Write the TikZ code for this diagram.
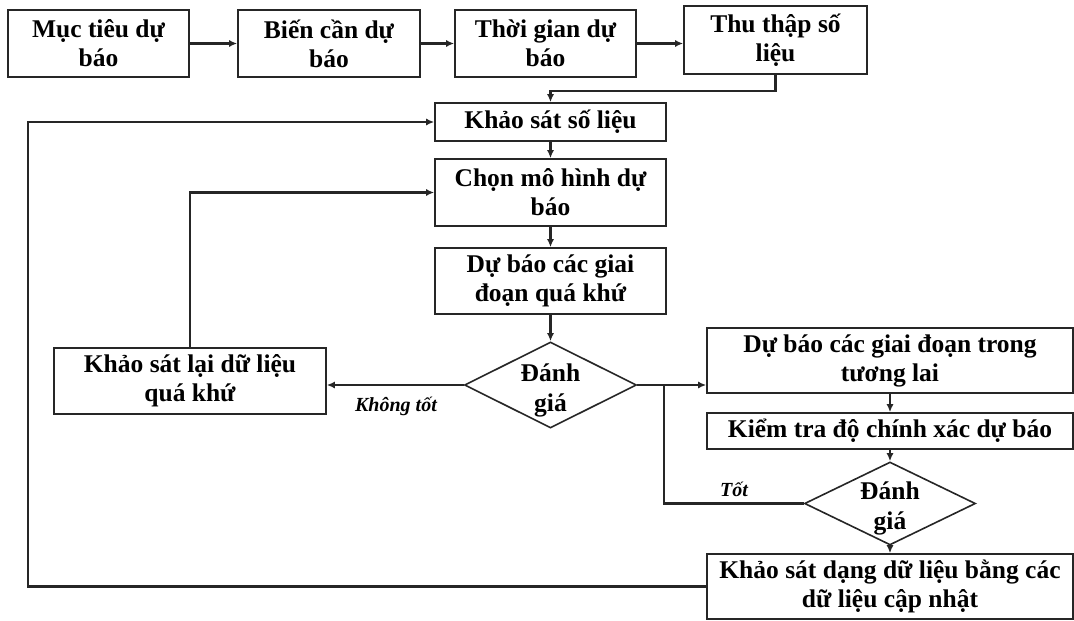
\documentclass[tikz,border=0pt]{standalone}
\usepackage{fontspec}
\setmainfont{Liberation Serif}
\usetikzlibrary{shapes.geometric,arrows.meta}
\begin{document}
\begin{tikzpicture}[x=1pt,y=-1pt,
  box/.style={draw=black!85, line width=1.6pt, fill=white, align=center,
    font=\fontsize{25.5}{29}\selectfont\bfseries, inner sep=0pt},
  dia/.style={diamond, draw=black!85, line width=1.6pt, fill=white, inner sep=0pt},
  diatext/.style={align=center, font=\fontsize{25.5}{30}\selectfont\bfseries, inner sep=0pt, yshift=-5pt},
  conn/.style={line width=2.3pt, draw=black!85},
  arr/.style={conn, -{Latex[length=8pt,width=7pt]}},
  lbl/.style={font=\fontsize{20}{24}\selectfont\bfseries\itshape}
]
\useasboundingbox (0,0) rectangle (1074,621);
\node[box, minimum width=181pt, minimum height=67pt] (b1) at (98.5,43.5) {Mục tiêu dự\\báo};
\node[box, minimum width=182pt, minimum height=67pt] (b2) at (329,43.5) {Biến cần dự\\báo};
\node[box, minimum width=181pt, minimum height=67pt] (b3) at (545.5,43.5) {Thời gian dự\\báo};
\node[box, minimum width=183pt, minimum height=68pt] (b4) at (775.5,40) {Thu thập số\\liệu};
\node[box, minimum width=231pt, minimum height=38pt] (b5) at (550.5,122) {Khảo sát số liệu};
\node[box, minimum width=231pt, minimum height=67pt] (b6) at (550.5,192.5) {Chọn mô hình dự\\báo};
\node[box, minimum width=231pt, minimum height=66pt] (b7) at (550.5,281) {Dự báo các giai\\đoạn quá khứ};
\node[dia, minimum width=172pt, minimum height=86pt, label={[diatext]center:Đánh\\giá}] (d1) at (550.5,385) {};
\node[box, minimum width=272pt, minimum height=66pt] (b8) at (190,381) {Khảo sát lại dữ liệu\\quá khứ};
\node[box, minimum width=366pt, minimum height=65pt] (b9) at (890,360.5) {Dự báo các giai đoạn trong\\tương lai};
\node[box, minimum width=366pt, minimum height=36pt] (b10) at (890,431) {Kiểm tra độ chính xác dự báo};
\node[dia, minimum width=171pt, minimum height=83pt, label={[diatext]center:Đánh\\giá}] (d2) at (890,503.5) {};
\node[box, minimum width=366pt, minimum height=65pt] (b11) at (890,586.5) {Khảo sát dạng dữ liệu bằng các\\dữ liệu cập nhật};
\node[lbl] (nt) at (396,406) {Không tốt};
\node[lbl] (tt) at (734,489) {Tốt};
\coordinate (j1) at (550.5,91);
\coordinate (j2) at (664,385);
\coordinate (lx) at (28,0);
\draw[arr] (b1) -- (b2);
\draw[arr] (b2) -- (b3);
\draw[arr] (b3.east) -- (b3.east -| b4.west);
\draw[arr] (b4.south) |- (j1) -- (b5.north);
\draw[arr] (b5) -- (b6);
\draw[arr] (b6) -- (b7);
\draw[arr] (b7) -- (d1);
\draw[arr] (d1.west) -- (d1.west -| b8.east);
\draw[arr] (d1.east) -- (d1.east -| b9.west);
\draw[conn] (d2.west) -| (j2);
\draw[arr] (b9) -- (b10);
\draw[arr] (b10) -- (d2);
\draw[arr] (d2) -- (b11);
\draw[arr] (b11.west) -| (lx |- b5.west) -- (b5.west);
\draw[arr] (b8.north) |- (b6.west);
\end{tikzpicture}
\end{document}
